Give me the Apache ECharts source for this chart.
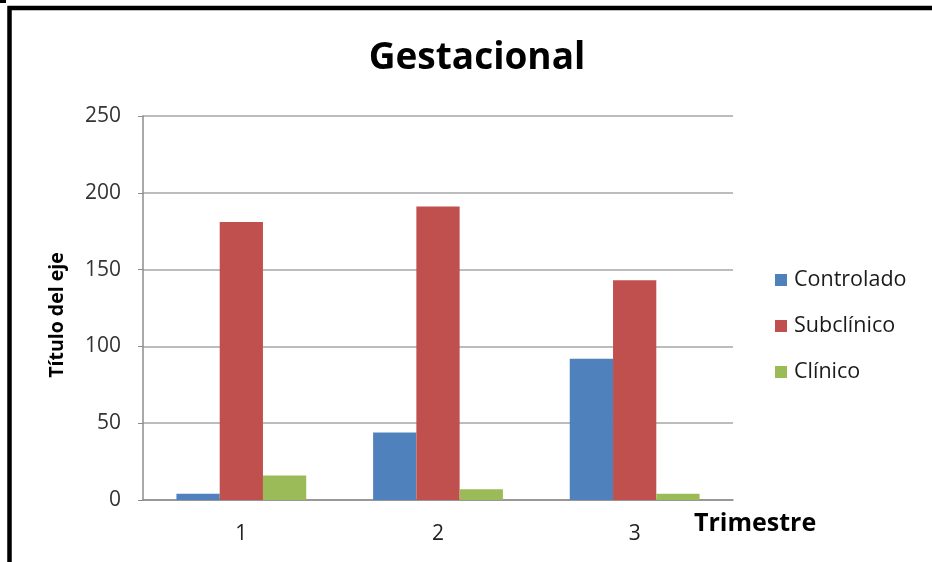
<!DOCTYPE html>
<html>
<head>
<meta charset="utf-8">
<script src="https://cdn.jsdelivr.net/npm/echarts@6/dist/echarts.min.js"></script>
<style>
html,body{margin:0;padding:0;background:#fff;}
#chart{width:932px;height:562px;}
</style>
</head>
<body>
<div id="chart"></div>
<script>
var categories = ['1', '2', '3'];
var seriesNames = ['Controlado', 'Subclínico', 'Clínico'];
var controlado = [4, 44, 92];
var subclinico = [181, 191, 143];
var clinico = [16, 7, 4];
var yTicks = { min: 0, max: 250, interval: 50 };
var colors = ['#4F81BD', '#C0504D', '#9BBB59'];
var FONT = '"Open Sans", sans-serif';

var chart = echarts.init(document.getElementById('chart'));
chart.setOption({
  animation: false,
  backgroundColor: '#fff',
  title: {
    text: 'Gestacional',
    left: 472, top: 35, textAlign: 'center',
    textStyle: { fontFamily: FONT, fontSize: 37, fontWeight: 'bold', color: '#000' }
  },
  graphic: [
    { type: 'rect', shape: { x: 9.5, y: 8, width: 1000, height: 1000 },
      style: { fill: 'none', stroke: '#000', lineWidth: 4.5 }, silent: true },
    { type: 'rect', shape: { x: 0, y: 0, width: 6, height: 3 }, style: { fill: '#000' }, silent: true },
    { type: 'text', left: 694, top: 511,
      style: { text: 'Trimestre', fontFamily: FONT, fontSize: 25, fontWeight: 'bold', fill: '#000' } }
  ],
  legend: {
    orient: 'vertical', left: 770, top: 264, itemGap: 24,
    itemWidth: 12, itemHeight: 12, icon: 'rect',
    textStyle: { fontFamily: FONT, fontSize: 21.5, color: '#1a1a1a', padding: [0, 0, 0, 2] },
    data: seriesNames
  },
  grid: { left: 143, right: 199, top: 116, bottom: 62, containLabel: false },
  xAxis: {
    type: 'category', data: categories,
    axisLine: { lineStyle: { color: '#8c8c8c', width: 1.5 } },
    axisTick: { show: false },
    axisLabel: { margin: 24, fontFamily: FONT, fontSize: 21, color: '#222' }
  },
  yAxis: {
    type: 'value', min: yTicks.min, max: yTicks.max, interval: yTicks.interval,
    name: 'Título del eje', nameLocation: 'middle', nameGap: 76, nameRotate: 90,
    nameTextStyle: { fontFamily: FONT, fontSize: 19.5, fontWeight: 'bold', color: '#000', padding: [0, 0, 0, -14] },
    axisLine: { show: true, lineStyle: { color: '#8c8c8c', width: 1.5 } },
    axisTick: { show: true, inside: false, length: 5, lineStyle: { color: '#8c8c8c' } },
    axisLabel: { margin: 22, fontFamily: FONT, fontSize: 21, color: '#333' },
    splitLine: { show: true, lineStyle: { color: '#a6a6a6', width: 1.5 } }
  },
  series: [
    { name: seriesNames[0], type: 'bar', data: controlado, itemStyle: { color: colors[0] }, barGap: '0%', barCategoryGap: '34%' },
    { name: seriesNames[1], type: 'bar', data: subclinico, itemStyle: { color: colors[1] }, barGap: '0%', barCategoryGap: '34%' },
    { name: seriesNames[2], type: 'bar', data: clinico, itemStyle: { color: colors[2] }, barGap: '0%', barCategoryGap: '34%' }
  ]
});
</script>
</body>
</html>
